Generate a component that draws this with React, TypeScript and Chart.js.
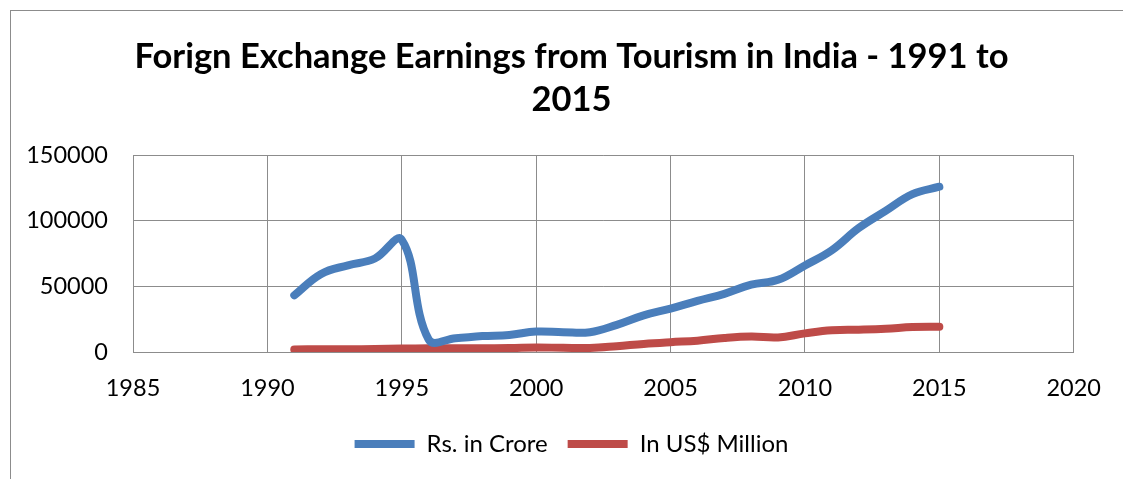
import React, { useEffect, useRef } from "react";
import { Chart, registerables } from "chart.js";
Chart.register(...registerables);

const titleLines = ["Forign Exchange Earnings from Tourism in India - 1991 to", "2015"];
const years = [1991, 1992, 1993, 1994, 1995, 1996, 1997, 1998, 1999, 2000, 2001, 2002, 2003, 2004, 2005, 2006, 2007, 2008, 2009, 2010, 2011, 2012, 2013, 2014, 2015];
const rsCrore = [43180, 59510, 66110, 71290, 85500, 9500, 10511, 12150, 12951, 15626, 15083, 15064, 20729, 27944, 33123, 39025, 44360, 51294, 55000, 66000, 77591, 94487, 107563, 120367, 126000];
const usdMillion = [1861, 2126, 2124, 2272, 2583, 2832, 2889, 2948, 3009, 3460, 3198, 3103, 4463, 6170, 7493, 8634, 10729, 11832, 11136, 14193, 16564, 17000, 17700, 19000, 19300];
const seriesNames = ["Rs. in Crore", "In US$ Million"];
const xMin = 1985, xMax = 2020, xStep = 5;
const yMin = 0, yMax = 150000, yStep = 50000;

const FONT = "Lato";

export default function App() {
  const ref = useRef<HTMLCanvasElement | null>(null);
  useEffect(() => {
    if (!ref.current) return;
    const chart = new Chart(ref.current, {
      type: "line",
      data: {
        datasets: [
          {
            label: seriesNames[0],
            data: years.map((y, i) => ({ x: y, y: rsCrore[i] })),
            borderColor: "#4a7ebb",
            backgroundColor: "#4a7ebb",
            borderWidth: 8,
            borderCapStyle: "round",
            borderJoinStyle: "round",
            pointRadius: 0,
            tension: 0.4,
          },
          {
            label: seriesNames[1],
            data: years.map((y, i) => ({ x: y, y: usdMillion[i] })),
            borderColor: "#be4b48",
            backgroundColor: "#be4b48",
            borderWidth: 8,
            borderCapStyle: "round",
            borderJoinStyle: "round",
            pointRadius: 0,
            tension: 0.4,
          },
        ],
      },
      options: {
        animation: false,
        responsive: false,
        layout: { padding: { left: 65, right: 45, top: 0, bottom: 13 } },
        plugins: {
          title: {
            display: true,
            text: titleLines,
            color: "#000",
            font: { family: FONT, size: 34.5, weight: "bold", lineHeight: 1.25 },
            padding: { top: 35, bottom: 34 },
          },
          legend: {
            position: "bottom",
            labels: {
              usePointStyle: true,
              pointStyle: "line",
              pointStyleWidth: 60,
              color: "#000",
              font: { family: FONT, size: 24 },
              padding: 20,
            },
          },
          tooltip: { enabled: false },
        },
        scales: {
          x: {
            type: "linear",
            min: xMin,
            max: xMax,
            ticks: {
              stepSize: xStep,
              color: "#000",
              font: { family: FONT, size: 23.5 },
              padding: 22,
              callback: (v: any) => String(v),
            },
            grid: { color: "#8c8c8c", lineWidth: 1, drawTicks: false },
            border: { color: "#8c8c8c" },
            afterFit: (s: any) => { s.height = 60; },
          },
          y: {
            min: yMin,
            max: yMax,
            ticks: {
              stepSize: yStep,
              color: "#000",
              font: { family: FONT, size: 23.5 },
              padding: 25,
              callback: (v: any) => String(v),
            },
            grid: { color: "#8c8c8c", lineWidth: 1, drawTicks: false },
            border: { color: "#8c8c8c" },
            afterFit: (s: any) => {
              s.width = 68;
              s._computeLabelArea = () => undefined;
            },
          },
        },
      },
    });
    return () => chart.destroy();
  }, []);
  return (
    <div style={{ position: "fixed", left: 0, top: 0, width: 1123, height: 479, background: "#fff", overflow: "hidden" }}>
      <div style={{ position: "absolute", left: 10, top: 10, width: 1200, height: 600, border: "1px solid #8c8c8c" }} />
      <canvas ref={ref} width={1123} height={479} style={{ position: "absolute", left: 0, top: 0 }} />
    </div>
  );
}
